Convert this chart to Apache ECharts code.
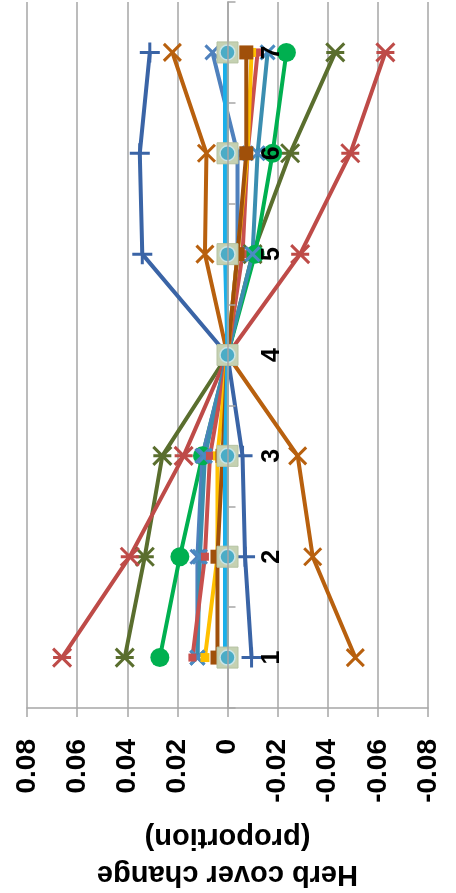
<!DOCTYPE html>
<html><head><meta charset="utf-8">
<script src="https://cdn.jsdelivr.net/npm/echarts@6/dist/echarts.min.js"></script>
<style>html,body{margin:0;padding:0;background:#fff}#c{width:456px;height:893px}</style>
</head><body><div id="c"></div>
<script>
const categories = ['1','2','3','4','5','6','7'];
const xTickMin = -0.08, xTickMax = 0.08, xTickStep = 0.02;
const axisTitle = 'Herb cover change\n(proportion)';

const darkBluePlus  = [-0.0096, -0.007, -0.006, 0, 0.034, 0.035, 0.031];
const orangeX       = [-0.051, -0.034, -0.028, 0, 0.009, 0.0084, 0.022];
const redStar       = [0.066, 0.039, 0.0175, 0, -0.029, -0.049, -0.063];
const oliveStar     = [0.041, 0.033, 0.026, 0, -0.010, -0.025, -0.043];
const greenCircle   = [0.027, 0.019, 0.010, 0, -0.011, -0.018, -0.0235];
const steelBlueX    = [0.012, 0.012, 0.010, 0, -0.004, -0.004, 0.006];
const tealX         = [0.012, 0.011, 0.009, 0, -0.010, -0.012, -0.016];
const redLine       = [0.014, 0.009, 0.007, 0, -0.006, -0.008, -0.012];
const yellowSquare  = [0.009, 0.004, 0.004, 0, -0.004, -0.008, -0.0096];
const brownSquare   = [0.004, 0.004, 0.002, 0, -0.004, -0.0075, -0.0075];
const greySquare    = [0, 0, 0, 0, 0, 0, 0];
const cyanLine      = [0.001, 0.001, 0.001, 0, 0.001, 0.001, 0.001];
const aquaCircle    = [0, 0, 0, 0, 0, 0, 0];

const PLUS = 'path://M0,5L10,5M5,0L5,10';
const XM = 'path://M0,0L10,10M10,0L0,10';
const STAR = 'path://M0,0L10,10M10,0L0,10M0,5L10,5';

function mk(data, color, symbol, size, opts) {
  opts = opts || {};
  const stroke = symbol.indexOf('path://') === 0;
  return {
    type: 'line', data: data, symbol: symbol, symbolSize: size,
    showSymbol: true, animation: false,
    lineStyle: { color: opts.lineColor || color, width: opts.lw || 4 },
    itemStyle: stroke ? { color: color, borderColor: color, borderWidth: 3 }
                      : { color: color, borderColor: opts.border || color, borderWidth: opts.bw || 0 },
    z: opts.z || 2
  };
}

const series = [
  mk(darkBluePlus, '#3A64A6', PLUS, 20),
  mk(orangeX, '#B8600E', XM, 17),
  mk(oliveStar, '#5A6E2E', STAR, 18),
  mk(redStar, '#BE4B48', STAR, 18),
  mk(greenCircle, '#00B050', 'circle', 19),
  mk(steelBlueX, '#4F81BD', XM, 14),
  mk(tealX, '#4A8CC2', XM, 14, { lineColor: '#3B8EB0' }),
  mk(redLine, '#C8504D', 'rect', 8),
  mk(yellowSquare, '#FFC000', 'rect', 9),
  mk(brownSquare, '#A0500A', 'rect', 14),
  mk(greySquare, '#C5D1B2', 'rect', 21, { lineColor: '#C3D69B', lw: 3, border: '#B5C2A2', bw: 1 }),
  mk(cyanLine, '#1AAFEA', 'none', 0),
  mk(aquaCircle, '#4BACC6', 'circle', 15, { lineColor: '#4BACC6', lw: 2, border: '#C9E4E6', bw: 1.5 })
];

const chart = echarts.init(document.getElementById('c'), null, { renderer: 'canvas' });
chart.setOption({
  backgroundColor: '#fff',
  animation: false,
  grid: { left: 27, right: 28, top: 2, bottom: 185, containLabel: false, outerBoundsMode: 'none' },
  xAxis: {
    type: 'value', inverse: true, min: xTickMin, max: xTickMax, interval: xTickStep,
    position: 'bottom',
    name: axisTitle, nameLocation: 'middle', nameRotate: 180, nameGap: 110,
    nameTextStyle: { fontFamily: 'Liberation Sans', fontWeight: 'bold', fontSize: 29, color: '#000', lineHeight: 37 },
    axisLine: { show: true, onZero: false, lineStyle: { color: '#A6A6A6', width: 1.5 } },
    axisTick: { show: true, length: 9, lineStyle: { color: '#A6A6A6', width: 1.5 } },
    splitLine: { show: true, lineStyle: { color: '#A6A6A6', width: 1.5 } },
    axisLabel: {
      rotate: 90, margin: 31, fontFamily: 'Liberation Sans', fontWeight: 'bold', fontSize: 28, color: '#000',
      formatter: v => String(Math.round(v * 100) / 100)
    }
  },
  yAxis: {
    type: 'category', data: categories, position: 'right', offset: -200.5, z: 10,
    axisLine: { show: true, onZero: false, lineStyle: { color: '#A6A6A6', width: 1.5 } },
    axisTick: { show: true, length: 8, lineStyle: { color: '#A6A6A6', width: 1.5 } },
    splitLine: { show: false },
    axisLabel: { rotate: 90, margin: 32, fontFamily: 'Liberation Sans', fontWeight: 'bold', fontSize: 25, color: '#000' }
  },
  series: series
});
</script></body></html>
